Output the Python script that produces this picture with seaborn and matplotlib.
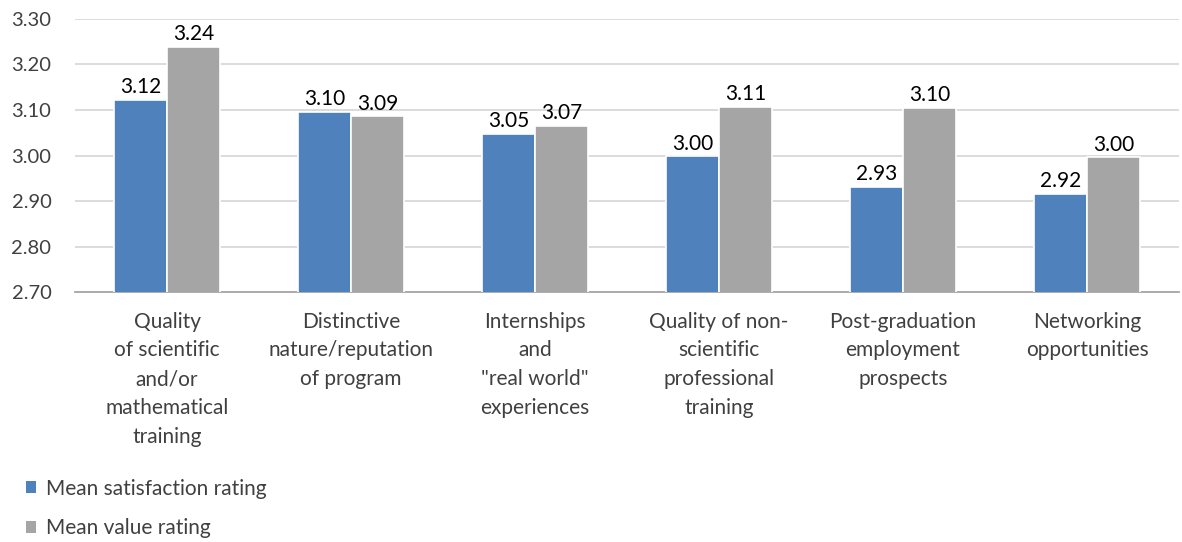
import matplotlib
matplotlib.use("Agg")
import matplotlib.pyplot as plt
import numpy as np
import pandas as pd
import seaborn as sns
from matplotlib.patches import Patch

categories = [
    "Quality\nof scientific\nand/or\nmathematical\ntraining",
    "Distinctive\nnature/reputation\nof program",
    "Internships\nand\n\"real world\"\nexperiences",
    "Quality of non-\nscientific\nprofessional\ntraining",
    "Post-graduation\nemployment\nprospects",
    "Networking\nopportunities",
]
series = ["Mean satisfaction rating", "Mean value rating"]
satisfaction = [3.122, 3.096, 3.047, 2.998, 2.931, 2.916]
value = [3.239, 3.086, 3.066, 3.107, 3.104, 2.996]
colors = ["#4F81BD", "#A5A5A5"]

sns.set_theme(style="white")
plt.rcParams['font.family'] = ['Lato', 'DejaVu Sans']

df = pd.DataFrame({
    "category": categories * 2,
    "series": [series[0]] * 6 + [series[1]] * 6,
    "rating": satisfaction + value,
})

fs = 15

fig = plt.figure(figsize=(11.82, 5.42), dpi=100)
ax = fig.add_axes([0.0635, 0.461, 0.934, 0.504])

sns.barplot(data=df, x="category", y="rating", hue="series", palette=colors,
            saturation=1, width=0.58, edgecolor="white", linewidth=1.2, ax=ax,
            legend=False, zorder=3)

ax.set_ylim(2.70, 3.30)
ax.set_xlim(-0.5, 5.5)
ticks = np.arange(2.70, 3.31, 0.10)
ax.set_yticks(ticks)
ax.set_yticklabels([f"{v:.2f}" for v in ticks])
ax.yaxis.grid(True, color="#D9D9D9", linewidth=1.3, zorder=0)
ax.set_axisbelow(True)

for s in ["top", "right", "left"]:
    ax.spines[s].set_visible(False)
ax.spines["bottom"].set_color("#A6A6A6")
ax.spines["bottom"].set_linewidth(1.3)

ax.set_xlabel("")
ax.set_ylabel("")
ax.set_xticks(range(len(categories)))
ax.set_xticklabels(categories, linespacing=1.55)
ax.tick_params(axis="y", length=0, pad=17, labelsize=fs - 0.5, labelcolor="#404040")
ax.tick_params(axis="x", which="major", length=0, pad=14, labelsize=fs, labelcolor="#404040")
ax.set_xticks(np.arange(-0.5, 6, 1), minor=True)
ax.tick_params(axis="x", which="minor", length=7, width=1.3, color="#A6A6A6", direction="out")

for cont in ax.containers:
    ax.bar_label(cont, fmt="%.2f", padding=2, fontsize=fs, color="#000000")

handles = [Patch(facecolor=c, edgecolor="none") for c in colors]
fig.legend(handles, series, loc="lower left", bbox_to_anchor=(0.006, -0.028),
           frameon=False, fontsize=fs, labelcolor="#404040", handlelength=0.5,
           handleheight=0.5, handletextpad=0.45, labelspacing=0.95)

fig.savefig("out.png", dpi=100)
